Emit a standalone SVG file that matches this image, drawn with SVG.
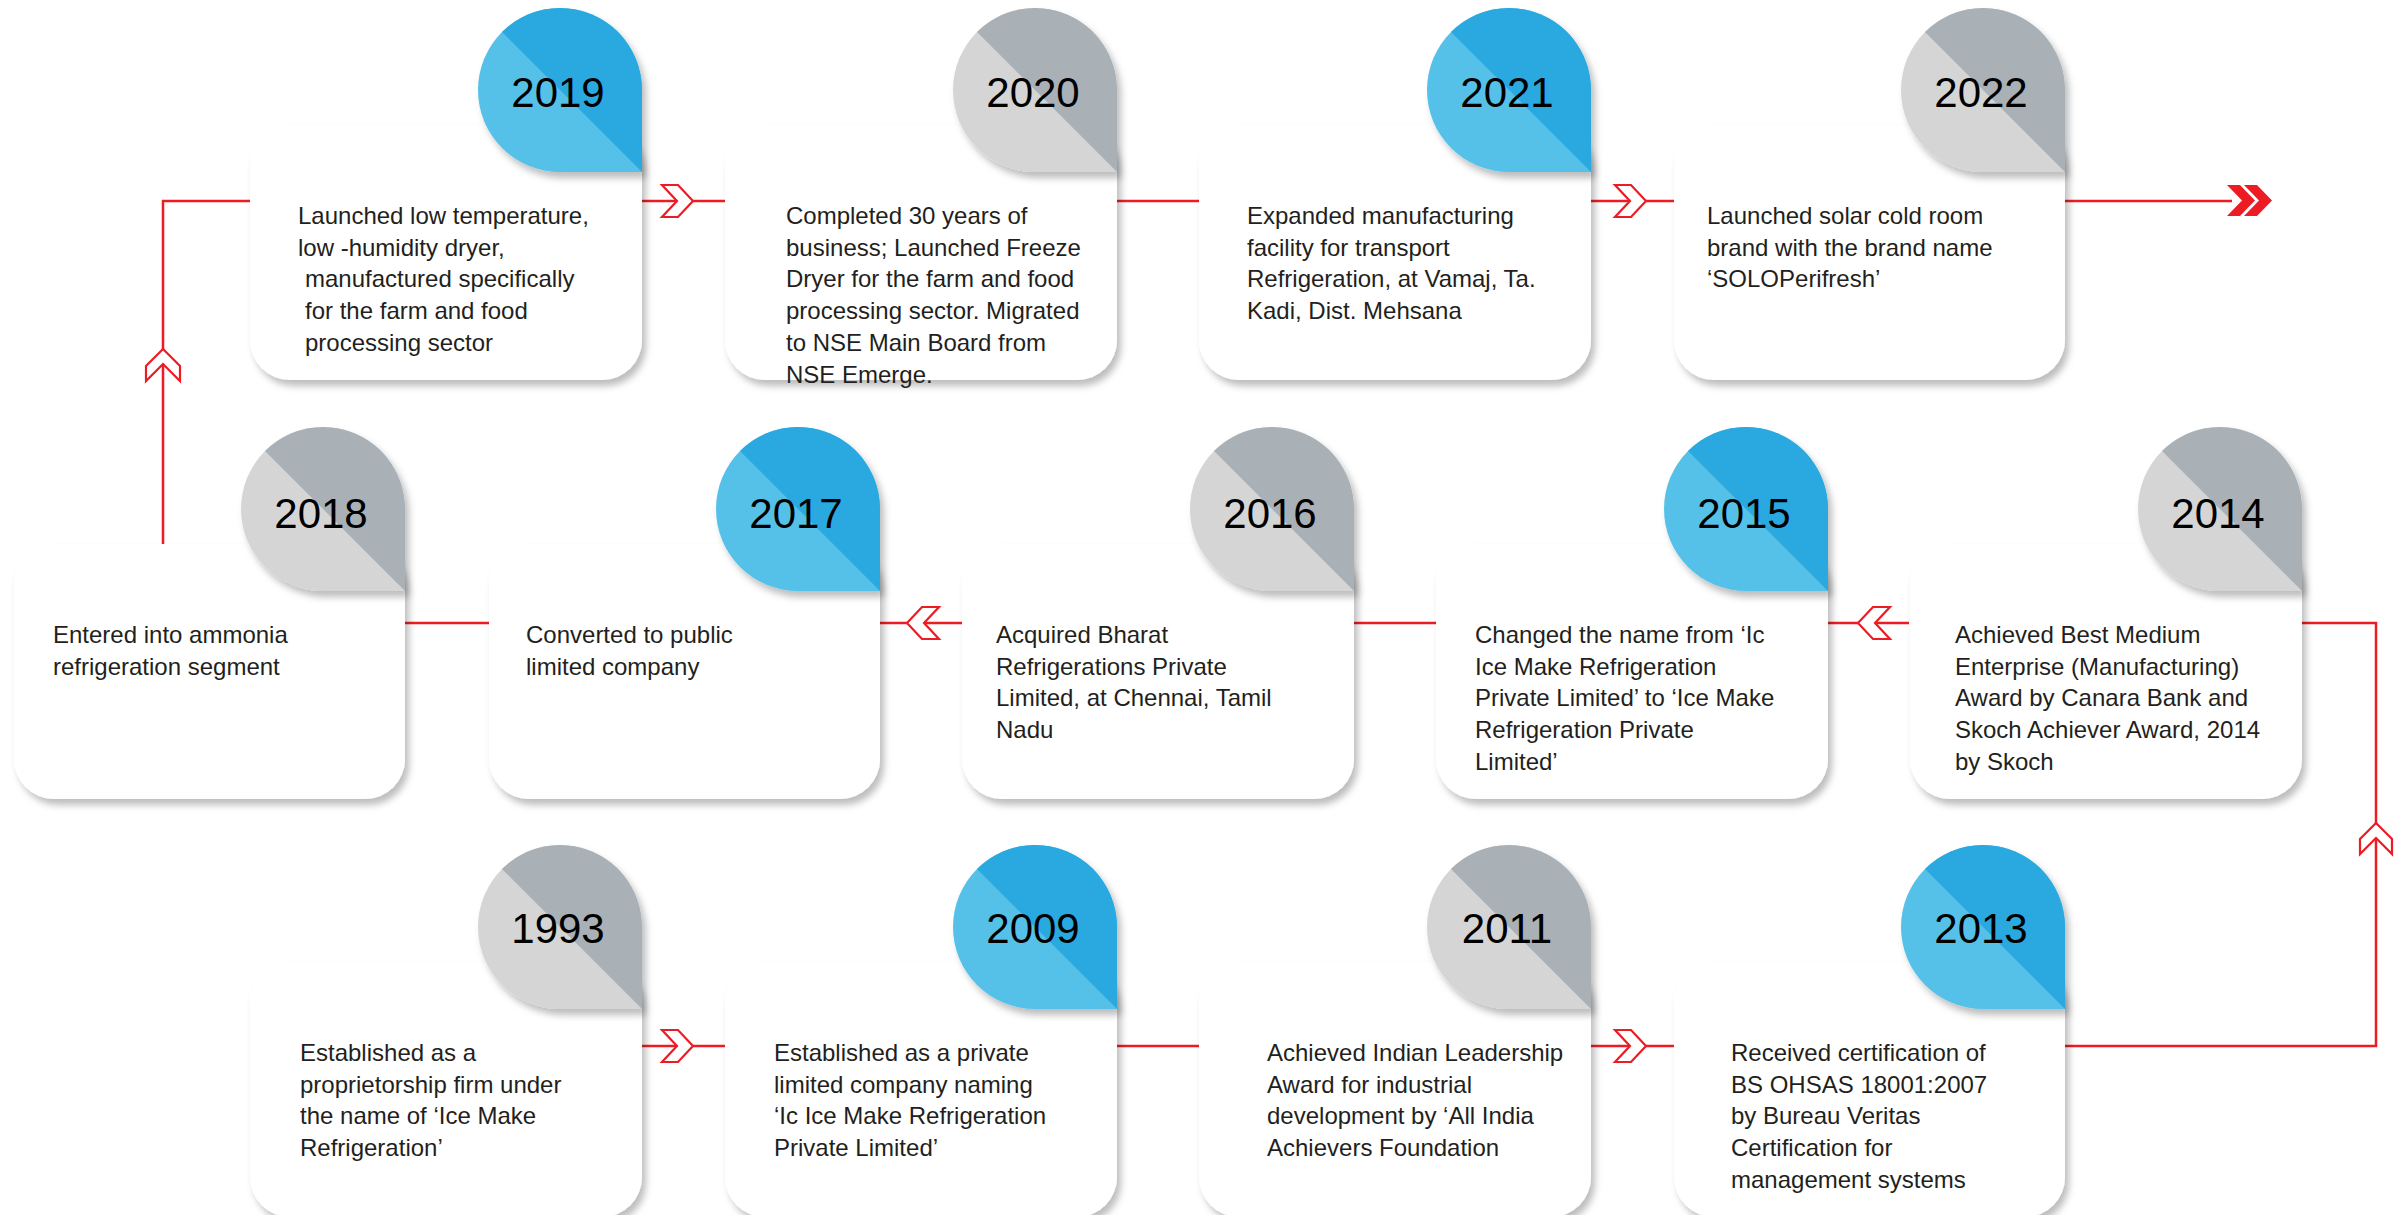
<svg xmlns="http://www.w3.org/2000/svg" width="2399" height="1215" viewBox="0 0 2399 1215">
<defs>
<filter id="sh" x="-10%" y="-10%" width="125%" height="130%">
<feDropShadow dx="4" dy="6" stdDeviation="3.5" flood-color="#000" flood-opacity="0.26"/>
</filter>
<path id="tdL" d="M-82,0 A82,82 0 0 1 0,-82 A82,82 0 0 1 82,0 L82,82 L0,82 A82,82 0 0 1 -82,0 Z"/>
<path id="tdD" d="M-57.98,-57.98 A82,82 0 0 1 82,0 L82,82 Z"/>
</defs>
<style>
.card{fill:#fff;filter:url(#sh)}
.td{filter:url(#sh)}
.bl{fill:#56C1E8}.bd{fill:#29A9E0}
.gl{fill:#D5D5D5}.gd{fill:#A9B1B6}
.conn{stroke:#ED1C24;stroke-width:2.5;fill:none}
.chev{fill:#fff;stroke:#ED1C24;stroke-width:2.2;stroke-linejoin:miter}
.chevf{fill:#ED1C24}
.yr{font-family:'Liberation Sans',Arial,sans-serif;font-size:42px;text-anchor:middle;fill:#000}
.tx{font-family:'Liberation Sans',Arial,sans-serif;font-size:24px;fill:#231F20}
</style>
<rect width="2399" height="1215" fill="#fff"/>

<g id="connectors">
<path class="conn" d="M163,544 V201 H250"/>
<path class="conn" d="M642,201 H725 M1117,201 H1199 M1591,201 H1674 M2065,201 H2232"/>
<path class="conn" d="M2065,1046 H2376 V623 H2302"/>
<path class="conn" d="M1828,623 H1909 M1354,623 H1436 M880,623 H962 M405,623 H490"/>
<path class="conn" d="M642,1046 H725 M1117,1046 H1199 M1591,1046 H1674"/>
<polygon class="chev" points="163,349 180,366 180,381 163,364 146,381 146,366"/>
<polygon class="chev" points="2376,823 2392,839 2392,854 2376,838 2360,854 2360,839"/>
<polygon class="chev" points="662,185 678,185 693,201 678,217 662,217 677,201"/>
<polygon class="chev" points="1615,185 1631,185 1646,201 1631,217 1615,217 1630,201"/>
<polygon class="chev" points="662,1030 678,1030 693,1046 678,1062 662,1062 677,1046"/>
<polygon class="chev" points="1615,1030 1631,1030 1646,1046 1631,1062 1615,1062 1630,1046"/>
<polygon class="chev" points="1858,623 1873,607 1890,607 1875,623 1890,639 1873,639"/>
<polygon class="chev" points="907,623 922,607 939,607 924,623 939,639 922,639"/>
<polygon class="chevf" points="2227,185 2240,185 2255,200.5 2240,216 2227,216 2242,200.5"/>
<polygon class="chevf" points="2244,185 2257,185 2272,200.5 2257,216 2244,216 2259,200.5"/>
</g>

<g id="n2019">
<rect class="card" x="250" y="125" width="392" height="255" rx="40"/>
<g class="td" transform="translate(560,90)"><use href="#tdL" class="bl"/><use href="#tdD" class="bd"/></g>
<text class="yr" x="558" y="107">2019</text>
<text class="tx" y="224"><tspan x="298">Launched low temperature,</tspan><tspan x="298" dy="31.7">low -humidity dryer,</tspan><tspan x="305" dy="31.7">manufactured specifically</tspan><tspan x="305" dy="31.7">for the farm and food</tspan><tspan x="305" dy="31.7">processing sector</tspan></text>
</g>

<g id="n2020">
<rect class="card" x="725" y="125" width="392" height="255" rx="40"/>
<g class="td" transform="translate(1035,90)"><use href="#tdL" class="gl"/><use href="#tdD" class="gd"/></g>
<text class="yr" x="1033" y="107">2020</text>
<text class="tx" y="224"><tspan x="786">Completed 30 years of</tspan><tspan x="786" dy="31.7">business; Launched Freeze</tspan><tspan x="786" dy="31.7">Dryer for the farm and food</tspan><tspan x="786" dy="31.7">processing sector. Migrated</tspan><tspan x="786" dy="31.7">to NSE Main Board from</tspan><tspan x="786" dy="31.7">NSE Emerge.</tspan></text>
</g>

<g id="n2021">
<rect class="card" x="1199" y="125" width="392" height="255" rx="40"/>
<g class="td" transform="translate(1509,90)"><use href="#tdL" class="bl"/><use href="#tdD" class="bd"/></g>
<text class="yr" x="1507" y="107">2021</text>
<text class="tx" y="224"><tspan x="1247">Expanded manufacturing</tspan><tspan x="1247" dy="31.7">facility for transport</tspan><tspan x="1247" dy="31.7">Refrigeration, at Vamaj, Ta.</tspan><tspan x="1247" dy="31.7">Kadi, Dist. Mehsana</tspan></text>
</g>

<g id="n2022">
<rect class="card" x="1674" y="125" width="391" height="255" rx="40"/>
<g class="td" transform="translate(1983,90)"><use href="#tdL" class="gl"/><use href="#tdD" class="gd"/></g>
<text class="yr" x="1981" y="107">2022</text>
<text class="tx" y="224"><tspan x="1707">Launched solar cold room</tspan><tspan x="1707" dy="31.7">brand with the brand name</tspan><tspan x="1707" dy="31.7">‘SOLOPerifresh’</tspan></text>
</g>

<g id="n2018">
<rect class="card" x="14" y="544" width="391" height="255" rx="40"/>
<g class="td" transform="translate(323,509)"><use href="#tdL" class="gl"/><use href="#tdD" class="gd"/></g>
<text class="yr" x="321" y="528">2018</text>
<text class="tx" y="643"><tspan x="53">Entered into ammonia</tspan><tspan x="53" dy="31.7">refrigeration segment</tspan></text>
</g>

<g id="n2017">
<rect class="card" x="489" y="544" width="391" height="255" rx="40"/>
<g class="td" transform="translate(798,509)"><use href="#tdL" class="bl"/><use href="#tdD" class="bd"/></g>
<text class="yr" x="796" y="528">2017</text>
<text class="tx" y="643"><tspan x="526">Converted to public</tspan><tspan x="526" dy="31.7">limited company</tspan></text>
</g>

<g id="n2016">
<rect class="card" x="962" y="544" width="392" height="255" rx="40"/>
<g class="td" transform="translate(1272,509)"><use href="#tdL" class="gl"/><use href="#tdD" class="gd"/></g>
<text class="yr" x="1270" y="528">2016</text>
<text class="tx" y="643"><tspan x="996">Acquired Bharat</tspan><tspan x="996" dy="31.7">Refrigerations Private</tspan><tspan x="996" dy="31.7">Limited, at Chennai, Tamil</tspan><tspan x="996" dy="31.7">Nadu</tspan></text>
</g>

<g id="n2015">
<rect class="card" x="1436" y="544" width="392" height="255" rx="40"/>
<g class="td" transform="translate(1746,509)"><use href="#tdL" class="bl"/><use href="#tdD" class="bd"/></g>
<text class="yr" x="1744" y="528">2015</text>
<text class="tx" y="643"><tspan x="1475">Changed the name from ‘Ic</tspan><tspan x="1475" dy="31.7">Ice Make Refrigeration</tspan><tspan x="1475" dy="31.7">Private Limited’ to ‘Ice Make</tspan><tspan x="1475" dy="31.7">Refrigeration Private</tspan><tspan x="1475" dy="31.7">Limited’</tspan></text>
</g>

<g id="n2014">
<rect class="card" x="1910" y="544" width="392" height="255" rx="40"/>
<g class="td" transform="translate(2220,509)"><use href="#tdL" class="gl"/><use href="#tdD" class="gd"/></g>
<text class="yr" x="2218" y="528">2014</text>
<text class="tx" y="643"><tspan x="1955">Achieved Best Medium</tspan><tspan x="1955" dy="31.7">Enterprise (Manufacturing)</tspan><tspan x="1955" dy="31.7">Award by Canara Bank and</tspan><tspan x="1955" dy="31.7">Skoch Achiever Award, 2014</tspan><tspan x="1955" dy="31.7">by Skoch</tspan></text>
</g>

<g id="n1993">
<rect class="card" x="250" y="962" width="392" height="255" rx="40"/>
<g class="td" transform="translate(560,927)"><use href="#tdL" class="gl"/><use href="#tdD" class="gd"/></g>
<text class="yr" x="558" y="943">1993</text>
<text class="tx" y="1061"><tspan x="300">Established as a</tspan><tspan x="300" dy="31.7">proprietorship firm under</tspan><tspan x="300" dy="31.7">the name of ‘Ice Make</tspan><tspan x="300" dy="31.7">Refrigeration’</tspan></text>
</g>

<g id="n2009">
<rect class="card" x="725" y="962" width="392" height="255" rx="40"/>
<g class="td" transform="translate(1035,927)"><use href="#tdL" class="bl"/><use href="#tdD" class="bd"/></g>
<text class="yr" x="1033" y="943">2009</text>
<text class="tx" y="1061"><tspan x="774">Established as a private</tspan><tspan x="774" dy="31.7">limited company naming</tspan><tspan x="774" dy="31.7">‘Ic Ice Make Refrigeration</tspan><tspan x="774" dy="31.7">Private Limited’</tspan></text>
</g>

<g id="n2011">
<rect class="card" x="1199" y="962" width="392" height="255" rx="40"/>
<g class="td" transform="translate(1509,927)"><use href="#tdL" class="gl"/><use href="#tdD" class="gd"/></g>
<text class="yr" x="1507" y="943">2011</text>
<text class="tx" y="1061"><tspan x="1267">Achieved Indian Leadership</tspan><tspan x="1267" dy="31.7">Award for industrial</tspan><tspan x="1267" dy="31.7">development by ‘All India</tspan><tspan x="1267" dy="31.7">Achievers Foundation</tspan></text>
</g>

<g id="n2013">
<rect class="card" x="1674" y="962" width="391" height="255" rx="40"/>
<g class="td" transform="translate(1983,927)"><use href="#tdL" class="bl"/><use href="#tdD" class="bd"/></g>
<text class="yr" x="1981" y="943">2013</text>
<text class="tx" y="1061"><tspan x="1731">Received certification of</tspan><tspan x="1731" dy="31.7">BS OHSAS 18001:2007</tspan><tspan x="1731" dy="31.7">by Bureau Veritas</tspan><tspan x="1731" dy="31.7">Certification for</tspan><tspan x="1731" dy="31.7">management systems</tspan></text>
</g>
</svg>
